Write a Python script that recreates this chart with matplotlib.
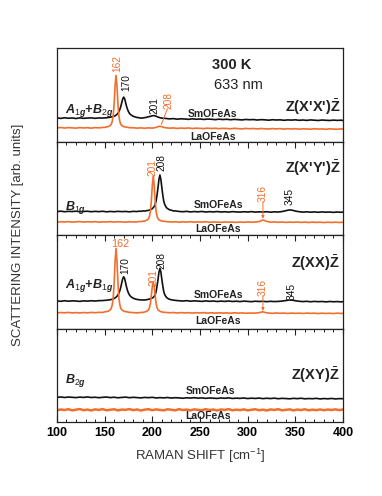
import numpy as np
import matplotlib
matplotlib.use('Agg')
import matplotlib.pyplot as plt
from matplotlib.ticker import MultipleLocator

plt.rcParams['font.family'] = ['Liberation Sans', 'DejaVu Sans']
plt.rcParams['mathtext.fontset'] = 'custom'
plt.rcParams['mathtext.rm'] = 'Liberation Sans'
plt.rcParams['mathtext.bf'] = 'Liberation Sans:bold'
plt.rcParams['mathtext.it'] = 'Liberation Sans:italic:bold'

ORANGE = '#F26E2C'
BLACK = '#111111'

# ---------------- data (raman shift [cm-1], intensity [arb. units]) ----------------
# Panel 1: Z(X'X')Z  (A1g+B2g)
sm_xpxp = [(100, 25.4), (104, 24.8), (108, 25.5), (112, 25.0), (116, 25.3), (120, 24.7), (124, 25.4), (128, 24.9),
           (132, 25.2), (136, 25.4), (140, 24.9), (144, 25.3), (148, 25.2), (150, 25.4), (152, 25.5), (154, 25.8),
           (156, 26.1), (158, 26.6), (160, 27.2), (161, 27.6), (162, 28.3), (163, 29.2), (164, 30.4), (165, 32.1),
           (166, 34.5), (167, 37.7), (168, 41.8), (169, 45.7), (170, 47.6), (171, 45.9), (172, 41.9), (173, 37.8),
           (174, 34.6), (175, 32.1), (176, 30.3), (177, 29.2), (178, 28.3), (180, 27.1), (182, 26.4), (184, 25.8),
           (186, 25.6), (188, 25.1), (190, 25.3), (192, 25.6), (194, 26.0), (196, 26.6), (198, 27.0), (200, 27.6),
           (202, 27.8), (204, 27.2), (206, 26.2), (208, 25.6), (210, 25.1), (214, 24.8), (218, 24.3), (222, 24.6),
           (226, 24.0), (230, 24.4), (234, 24.2), (238, 23.8), (242, 24.4), (246, 23.9), (250, 24.2), (254, 23.7),
           (258, 24.1), (262, 23.9), (266, 23.5), (270, 24.0), (274, 23.6), (278, 23.9), (282, 23.4), (286, 23.8),
           (290, 23.5), (294, 23.2), (298, 23.7), (302, 23.4), (306, 23.6), (310, 23.1), (314, 23.5), (318, 23.3),
           (322, 22.9), (326, 23.4), (330, 23.1), (334, 23.3), (338, 22.8), (342, 23.2), (346, 23.0), (350, 23.3),
           (354, 22.8), (358, 23.1), (362, 22.7), (366, 23.2), (370, 22.9), (374, 22.6), (378, 23.1), (382, 22.8),
           (386, 22.6), (390, 23.0), (394, 22.7), (398, 22.9), (400, 22.6)]
la_xpxp = [(100, 14.6), (104, 15.1), (108, 14.5), (112, 15.0), (116, 14.7), (120, 14.4), (124, 15.0), (128, 14.6),
           (132, 14.9), (136, 14.4), (140, 15.0), (144, 14.7), (148, 15.1), (150, 15.2), (152, 15.7), (154, 16.1),
           (156, 17.3), (157, 18.6), (158, 21.5), (159, 27.5), (160, 40.5), (161, 59.5), (162, 70.8), (163, 59.0),
           (164, 40.0), (165, 27.5), (166, 21.4), (167, 18.5), (168, 17.3), (170, 16.0), (172, 15.6), (174, 15.3),
           (176, 14.9), (180, 14.8), (184, 14.4), (188, 14.7), (192, 14.3), (196, 14.7), (200, 14.4), (202, 14.8),
           (204, 15.2), (206, 16.0), (208, 16.5), (210, 15.9), (212, 15.2), (214, 14.8), (218, 14.4), (222, 14.6),
           (226, 14.1), (230, 14.5), (234, 14.2), (238, 14.6), (242, 14.0), (246, 14.4), (250, 14.2), (254, 13.9),
           (258, 14.4), (262, 14.0), (266, 14.3), (270, 13.8), (274, 14.2), (278, 14.0), (282, 13.7), (286, 14.2),
           (290, 13.9), (294, 13.6), (298, 14.1), (302, 13.8), (306, 14.0), (310, 13.6), (314, 14.0), (318, 13.7),
           (322, 13.5), (326, 13.9), (330, 13.6), (334, 13.9), (338, 13.4), (342, 13.8), (346, 13.5), (350, 13.8),
           (354, 13.3), (358, 13.7), (362, 13.5), (366, 13.3), (370, 13.8), (374, 13.4), (378, 13.6), (382, 13.2),
           (386, 13.7), (390, 13.4), (394, 13.2), (398, 13.6), (400, 13.4)]

# Panel 2: Z(X'Y')Z  (B1g)
sm_xpyp = [(100, 25.1), (104, 25.6), (108, 25.0), (112, 25.4), (116, 25.2), (120, 25.6), (124, 24.9), (128, 25.3),
           (132, 25.5), (136, 25.0), (140, 25.4), (144, 25.1), (148, 25.5), (152, 24.9), (156, 25.3), (160, 25.0),
           (164, 25.4), (168, 25.1), (172, 25.3), (176, 24.9), (180, 25.4), (184, 25.2), (186, 25.6), (188, 25.4),
           (190, 25.9), (192, 25.7), (194, 26.2), (196, 26.4), (198, 27.3), (200, 28.2), (201, 29.4), (202, 30.6),
           (203, 32.8), (204, 36.5), (205, 42.9), (206, 50.9), (207, 59.8), (208, 64.3), (209, 59.6), (210, 51.0),
           (211, 42.8), (212, 36.3), (213, 33.0), (214, 30.8), (215, 29.2), (216, 28.4), (218, 27.1), (220, 26.6),
           (222, 25.9), (224, 25.9), (228, 25.3), (232, 25.0), (236, 25.4), (240, 24.8), (244, 25.2), (248, 24.9),
           (252, 25.3), (256, 24.7), (260, 25.1), (264, 24.8), (268, 25.2), (272, 24.7), (276, 25.0), (280, 24.6),
           (284, 25.1), (288, 24.8), (292, 24.6), (296, 25.0), (300, 24.7), (304, 25.1), (308, 24.6), (312, 24.9),
           (316, 24.7), (320, 25.0), (324, 24.5), (328, 24.9), (332, 24.7), (336, 25.2), (340, 26.1), (342, 26.6),
           (344, 26.9), (346, 26.8), (348, 26.3), (350, 25.7), (354, 25.0), (358, 24.6), (362, 24.9), (366, 24.5),
           (370, 24.8), (374, 24.4), (378, 24.8), (382, 24.5), (386, 24.7), (390, 24.3), (394, 24.7), (398, 24.4),
           (400, 24.6)]
la_xpyp = [(100, 13.8), (104, 14.3), (108, 14.0), (112, 14.4), (116, 13.9), (120, 14.2), (124, 14.5), (128, 13.9),
           (132, 14.3), (136, 14.0), (140, 14.4), (144, 13.8), (148, 14.2), (152, 14.0), (156, 14.4), (160, 13.9),
           (164, 14.3), (168, 14.1), (172, 13.8), (176, 14.3), (180, 14.0), (184, 14.2), (186, 14.5), (188, 14.4),
           (189, 14.7), (191, 14.9), (193, 15.4), (195, 16.4), (196, 17.5), (197, 20.1), (198, 25.3), (199, 36.5),
           (200, 53.0), (201, 63.1), (202, 53.2), (203, 36.4), (204, 25.4), (205, 20.0), (206, 17.6), (207, 16.3),
           (209, 15.4), (211, 14.9), (213, 14.7), (216, 14.3), (220, 14.0), (224, 14.3), (228, 13.8), (232, 14.2),
           (236, 13.9), (240, 14.3), (244, 13.8), (248, 14.1), (252, 13.9), (256, 14.3), (260, 13.7), (264, 14.1),
           (268, 13.9), (272, 13.6), (276, 14.1), (280, 13.8), (284, 14.0), (288, 13.6), (292, 14.0), (296, 13.7),
           (300, 14.1), (304, 13.8), (308, 14.0), (311, 14.3), (313, 14.9), (315, 15.8), (316, 16.1), (317, 15.9),
           (319, 15.0), (321, 14.4), (324, 13.9), (328, 14.1), (332, 13.7), (336, 14.0), (340, 13.6), (344, 13.9),
           (348, 13.7), (352, 14.0), (356, 13.6), (360, 13.9), (364, 13.5), (368, 13.9), (372, 13.6), (376, 13.8),
           (380, 13.4), (384, 13.8), (388, 13.5), (392, 13.8), (396, 13.5), (400, 13.7)]

# Panel 3: Z(XX)Z  (A1g+B1g)
sm_xx = [(100, 29.6), (104, 29.2), (108, 29.8), (112, 29.3), (116, 29.7), (120, 29.5), (124, 29.1), (128, 29.7),
         (132, 29.4), (136, 29.8), (140, 29.5), (144, 29.9), (148, 30.0), (150, 30.2), (152, 30.3), (154, 30.6),
         (156, 30.9), (158, 31.4), (160, 32.2), (162, 33.6), (163, 34.6), (164, 36.0), (165, 37.9), (166, 40.7),
         (167, 44.4), (168, 49.0), (169, 53.4), (170, 55.4), (171, 53.5), (172, 49.0), (173, 44.5), (174, 40.8),
         (175, 38.0), (176, 36.1), (177, 34.8), (178, 33.8), (180, 32.5), (182, 31.7), (184, 31.2), (186, 30.9),
         (188, 30.7), (190, 30.6), (192, 30.6), (194, 30.9), (196, 31.3), (198, 31.9), (200, 32.7), (201, 33.4),
         (202, 34.5), (203, 36.2), (204, 39.6), (205, 45.7), (206, 52.6), (207, 60.4), (208, 64.4), (209, 60.6),
         (210, 52.8), (211, 45.8), (212, 39.7), (213, 36.5), (214, 34.6), (215, 33.3), (216, 32.4), (218, 31.4),
         (220, 30.8), (222, 30.5), (224, 30.2), (228, 29.8), (232, 29.5), (236, 29.9), (240, 29.3), (244, 29.7),
         (248, 29.4), (252, 29.1), (256, 29.6), (260, 29.2), (264, 29.5), (268, 29.0), (272, 29.4), (276, 29.1),
         (280, 29.5), (284, 29.0), (288, 29.3), (292, 28.9), (296, 29.4), (300, 29.1), (304, 28.8), (308, 29.3),
         (312, 29.0), (316, 29.2), (320, 28.8), (324, 29.2), (328, 28.9), (332, 29.1), (336, 29.4), (340, 30.0),
         (343, 30.5), (345, 30.6), (347, 30.4), (350, 29.8), (354, 29.2), (358, 28.9), (362, 29.2), (366, 28.7),
         (370, 29.1), (374, 28.8), (378, 29.0), (382, 28.6), (386, 29.0), (390, 28.7), (394, 28.9), (398, 28.6),
         (400, 28.8)]
la_xx = [(100, 16.7), (104, 17.2), (108, 16.9), (112, 17.3), (116, 16.8), (120, 17.1), (124, 16.7), (128, 17.2),
         (132, 16.9), (136, 17.3), (140, 17.0), (144, 17.4), (148, 17.3), (150, 17.9), (152, 18.2), (154, 18.7),
         (156, 20.1), (157, 21.8), (158, 25.3), (159, 32.6), (160, 48.4), (161, 71.9), (162, 85.8), (163, 71.8),
         (164, 48.6), (165, 32.7), (166, 25.4), (167, 21.6), (168, 20.2), (170, 18.7), (172, 18.2), (174, 17.8),
         (176, 17.4), (180, 17.1), (184, 16.8), (188, 17.2), (191, 17.5), (193, 18.1), (195, 19.0), (196, 20.1),
         (197, 22.3), (198, 26.8), (199, 35.8), (200, 44.7), (201, 49.9), (202, 44.8), (203, 35.9), (204, 26.7),
         (205, 22.4), (206, 20.0), (207, 19.2), (209, 18.1), (211, 17.6), (214, 17.3), (218, 16.9), (222, 17.2),
         (226, 16.7), (230, 17.1), (234, 16.8), (238, 17.0), (242, 16.6), (246, 17.0), (250, 16.7), (254, 17.1),
         (258, 16.6), (262, 16.9), (266, 16.5), (270, 16.9), (274, 16.6), (278, 16.8), (282, 16.4), (286, 16.9),
         (290, 16.5), (294, 16.8), (298, 16.4), (302, 16.7), (306, 16.5), (310, 16.8), (313, 17.2), (315, 17.8),
         (316, 18.0), (317, 17.7), (319, 17.0), (322, 16.6), (326, 16.3), (330, 16.7), (334, 16.4), (338, 16.6),
         (342, 16.2), (346, 16.6), (350, 16.3), (354, 16.5), (358, 16.2), (362, 16.6), (366, 16.3), (370, 16.5),
         (374, 16.1), (378, 16.5), (382, 16.2), (386, 16.4), (390, 16.1), (394, 16.5), (398, 16.2), (400, 16.4)]

# Panel 4: Z(XY)Z  (B2g) - featureless, sampled evenly 100..400
sm_xy = [26.4, 26.9, 26.3, 26.8, 26.5, 26.2, 26.7, 26.4, 26.9, 26.3,
         26.6, 26.1, 26.5, 26.8, 26.2, 26.6, 26.0, 26.4, 26.7, 26.1,
         26.5, 26.2, 25.9, 26.4, 26.1, 26.5, 25.8, 26.2, 25.9, 26.3,
         25.7, 26.1, 25.9, 25.5, 26.0, 25.7, 26.1, 25.6, 25.9, 25.4,
         25.8, 25.6, 25.3, 25.8, 25.5, 25.9, 25.3, 25.6, 25.4, 25.8,
         25.2, 25.6, 25.3, 25.7, 25.1, 25.5, 25.2, 25.6, 25.0, 25.4,
         25.2, 24.9, 25.4, 25.1, 25.5, 24.9, 25.2, 25.0, 25.4, 24.8,
         25.2, 24.9, 25.3, 24.8, 25.1, 25.0]
la_xy = [12.6, 13.5, 12.9, 13.8, 12.5, 13.3, 13.9, 12.7, 13.4, 12.4,
         13.6, 13.0, 13.9, 12.6, 13.2, 13.7, 12.5, 13.4, 13.1, 13.9,
         12.8, 13.5, 12.4, 13.3, 13.8, 12.7, 13.6, 13.0, 12.5, 13.7,
         13.2, 12.6, 13.8, 12.9, 13.4, 12.5, 13.6, 13.1, 12.7, 13.8,
         12.9, 13.4, 12.4, 13.5, 13.0, 13.9, 12.6, 13.3, 12.8, 13.6,
         12.5, 13.2, 13.7, 12.7, 13.3, 12.4, 13.5, 13.0, 13.8, 12.6,
         13.1, 13.6, 12.5, 13.4, 12.9, 13.7, 12.6, 13.3, 12.8, 13.5,
         12.7, 13.4, 13.0, 13.6, 12.8, 13.5]

x_ticks = [100, 150, 200, 250, 300, 350, 400]
geometries = ["Z(X'X')", "Z(X'Y')", "Z(XX)", "Z(XY)"]
symmetries = [r"$A_{\mathit{1g}}$+$B_{\mathit{2g}}$", r"$B_{\mathit{1g}}$",
              r"$A_{\mathit{1g}}$+$B_{\mathit{1g}}$", r"$B_{\mathit{2g}}$"]
sample_sm = "SmOFeAs"
sample_la = "LaOFeAs"


def unzip(pairs):
    a = np.array(pairs, dtype=float)
    return a[:, 0], a[:, 1]


fig, axes = plt.subplots(4, 1, figsize=(3.82, 4.96), dpi=100, sharex=True)
fig.subplots_adjust(left=0.149, right=0.898, bottom=0.149, top=0.903, hspace=0)

curves = [(sm_xpxp, la_xpxp), (sm_xpyp, la_xpyp), (sm_xx, la_xx), (None, None)]

for i, ax in enumerate(axes):
    ax.set_xlim(100, 400)
    ax.set_ylim(0, 100)
    ax.set_yticks([])
    for s in ax.spines.values():
        s.set_linewidth(0.9)
        s.set_color('#222222')
    if i < 3:
        xs, ys = unzip(curves[i][0])
        xl, yl = unzip(curves[i][1])
        ax.plot(xs, ys, color=BLACK, lw=1.2)
        ax.plot(xl, yl, color=ORANGE, lw=1.2)
    else:
        ax.plot(np.linspace(100, 400, len(sm_xy)), sm_xy, color=BLACK, lw=1.2)
        ax.plot(np.linspace(100, 400, len(la_xy)), la_xy, color=ORANGE, lw=1.8)
    ax.xaxis.set_major_locator(MultipleLocator(50))
    ax.xaxis.set_minor_locator(MultipleLocator(10))
    ax.tick_params(axis='x', which='major', direction='in', length=4, width=0.8, color='#222222',
                   top=(i > 0), bottom=(i == 3), labelbottom=(i == 3))
    ax.tick_params(axis='x', which='minor', direction='in', length=2, width=0.7, color='#222222',
                   top=(i > 0), bottom=(i == 3))

    # geometry label
    ax.text(397, [37, 72, 70, 50][i], geometries[i] + r"$\bar{\mathbf{Z}}$", ha='right', va='center',
            fontsize=10.5, fontweight='bold', color='#222222')
    # symmetry label
    ax.text(108.5, [33.7, 29.9, 46.5, 44.2][i], symmetries[i], ha='left', va='center',
            fontsize=9, fontweight='bold', fontstyle='italic', color='#222222')
    # sample names
    ax.text([263.6, 268.9, 268.9, 261.5][i], [29.4, 32.1, 35.8, 33.2][i], sample_sm, ha='center', va='center',
            fontsize=7.5, fontweight='bold', color='#222222')
    ax.text([263.6, 268.9, 268.9, 258.4][i], [5.0, 6.4, 8.3, 6.4][i], sample_la, ha='center', va='center',
            fontsize=7.5, fontweight='bold', color='#222222')

axes[3].set_xticks(x_ticks)
axes[3].set_xticklabels([str(t) for t in x_ticks], fontsize=9, fontweight='bold')
axes[3].set_xlabel(r"RAMAN SHIFT [cm$^{-1}$]", fontsize=9.5, color='#333333', labelpad=6)

pk = dict(fontsize=7.3, rotation=90, ha='center', va='center',
          family=['Liberation Sans Narrow', 'Liberation Sans'])
# panel 1 peak labels
a = axes[0]
a.text(162.9, 83.5, "162", color=ORANGE, **pk)
a.text(172.4, 63.0, "170", color=BLACK, **pk)
a.text(201.8, 39.0, "201", color=BLACK, **pk)
a.text(216.6, 44.0, "208", color=ORANGE, **pk)
a.plot([215.8, 209.5], [35.0, 18.5], color=ORANGE, lw=0.7)
a.text(283.6, 82.0, "300 K", fontsize=10.5, fontweight='bold', ha='center', va='center', color='#222222')
a.text(290.0, 60.4, "633 nm", fontsize=10.5, ha='center', va='center', color='#222222')

# panel 2 peak labels
a = axes[1]
a.text(199.7, 72.0, "201", color=ORANGE, **pk)
a.text(210.1, 78.0, "208", color=BLACK, **pk)
a.text(316.1, 44.0, "316", color=ORANGE, **pk)
a.annotate("", xy=(316, 17.5), xytext=(316, 35.5),
           arrowprops=dict(arrowstyle='-|>', color=ORANGE, lw=0.7, mutation_scale=4, shrinkA=0, shrinkB=0))
a.text(344.4, 41.0, "345", color=BLACK, **pk)

# panel 3 peak labels
a = axes[2]
a.text(166.0, 90.5, "162", color=ORANGE, fontsize=7.8, ha='center', va='center',
       family=['Liberation Sans Narrow', 'Liberation Sans'])
a.text(171.3, 67.0, "170", color=BLACK, **pk)
a.text(200.7, 54.5, "201", color=ORANGE, **pk)
a.text(210.1, 72.4, "208", color=BLACK, **pk)
a.text(316.1, 44.4, "316", color=ORANGE, **pk)
a.annotate("", xy=(316, 19.0), xytext=(316, 35.0),
           arrowprops=dict(arrowstyle='-|>', color=ORANGE, lw=0.7, mutation_scale=4, shrinkA=0, shrinkB=0))
a.text(346.5, 40.1, "345", color=BLACK, **pk)

fig.text(18 / 382, 1 - 235 / 496, "SCATTERING INTENSITY [arb. units]", rotation=90,
         ha='center', va='center', fontsize=9.5, color='#333333')

fig.savefig('out.png', dpi=100)
